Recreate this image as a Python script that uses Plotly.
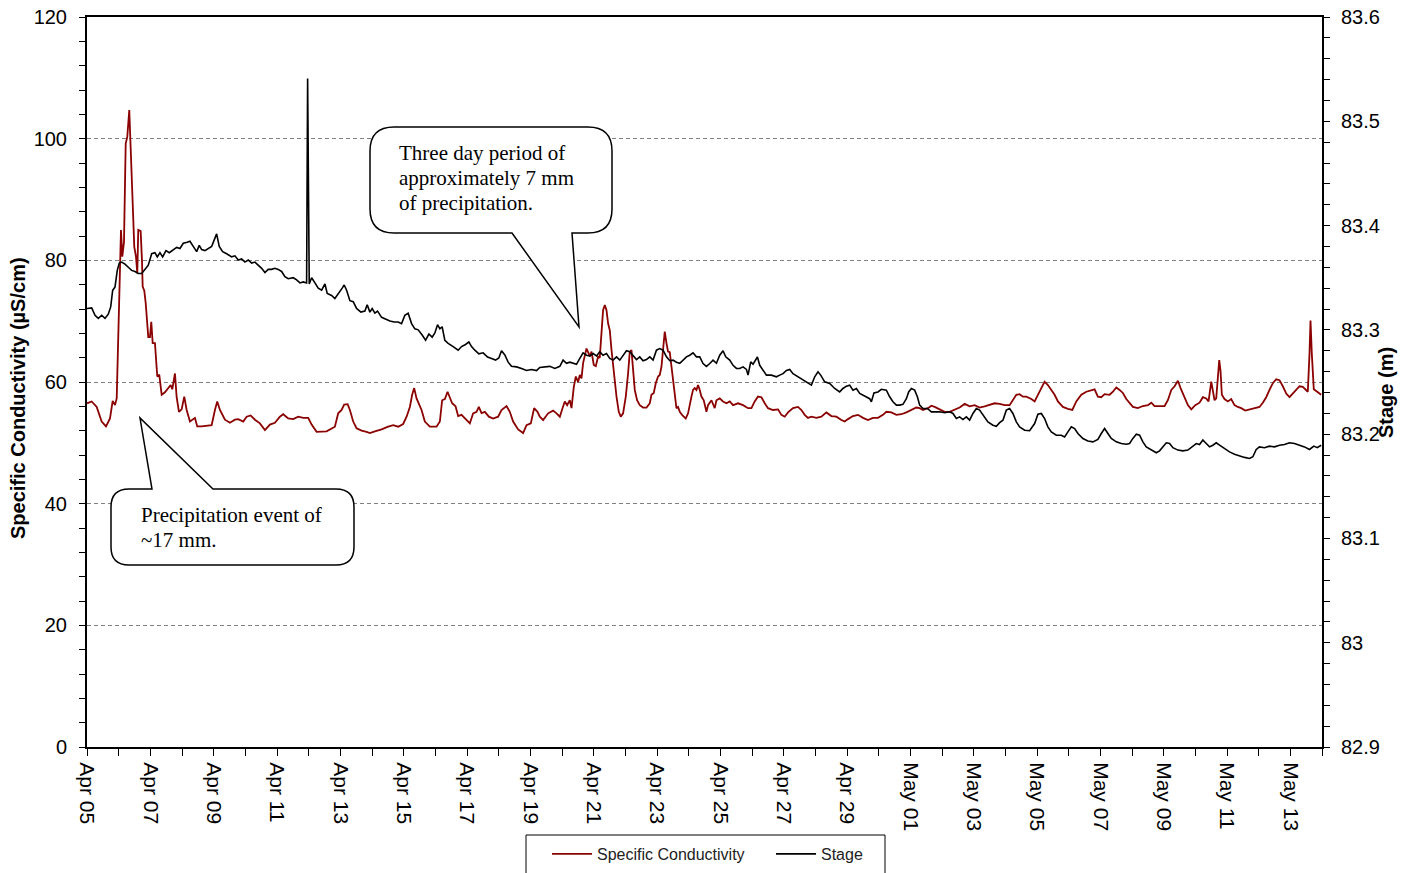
import pandas as pd
import plotly.graph_objects as go

# ---------------- data ----------------
START = "2010-04-05"
END = "2010-05-14"

# days since START, specific conductivity (uS/cm)
cond_days = [
    0.0, 0.148, 0.306, 0.464, 0.600, 0.726, 0.811, 0.884, 0.938, 0.988,
    1.042, 1.073, 1.114, 1.168, 1.222, 1.272, 1.335, 1.379, 1.430, 1.493,
    1.547, 1.588, 1.619, 1.695, 1.736, 1.758, 1.809, 1.853, 1.935, 1.989,
    2.030, 2.074, 2.146, 2.219, 2.282, 2.358, 2.462, 2.566, 2.642, 2.693,
    2.778, 2.831, 2.904, 2.989, 3.071, 3.147, 3.251, 3.409, 3.482, 3.621,
    3.778, 3.936, 4.040, 4.113, 4.198, 4.356, 4.514, 4.672, 4.776, 4.934,
    5.041, 5.167, 5.303, 5.461, 5.619, 5.776, 5.934, 6.092, 6.196, 6.354,
    6.512, 6.670, 6.828, 6.986, 7.093, 7.251, 7.566, 7.724, 7.828, 7.933,
    8.040, 8.122, 8.229, 8.302, 8.406, 8.513, 8.671, 8.829, 8.933, 9.091,
    9.303, 9.511, 9.669, 9.827, 9.984, 10.092, 10.196, 10.268, 10.332, 10.407,
    10.480, 10.565, 10.669, 10.827, 11.039, 11.143, 11.215, 11.301, 11.386, 11.458,
    11.531, 11.638, 11.721, 11.828, 11.954, 12.090, 12.194, 12.301, 12.374, 12.459,
    12.563, 12.690, 12.825, 12.983, 13.090, 13.248, 13.352, 13.457, 13.615, 13.772,
    13.880, 14.015, 14.120, 14.227, 14.299, 14.404, 14.562, 14.719, 14.827, 14.931,
    15.016, 15.089, 15.161, 15.246, 15.300, 15.373, 15.436, 15.509, 15.562, 15.616,
    15.666, 15.720, 15.774, 15.824, 15.878, 15.932, 16.004, 16.067, 16.140, 16.193,
    16.247, 16.297, 16.351, 16.405, 16.455, 16.509, 16.563, 16.635, 16.721, 16.793,
    16.856, 16.929, 17.014, 17.087, 17.140, 17.194, 17.245, 17.298, 17.371, 17.456,
    17.560, 17.668, 17.772, 17.825, 17.898, 17.961, 18.034, 18.087, 18.141, 18.192,
    18.245, 18.299, 18.349, 18.403, 18.457, 18.507, 18.561, 18.614, 18.665, 18.719,
    18.804, 18.908, 18.981, 19.034, 19.088, 19.138, 19.192, 19.246, 19.296, 19.350,
    19.403, 19.476, 19.561, 19.612, 19.719, 19.823, 19.877, 19.981, 20.085, 20.193,
    20.297, 20.401, 20.559, 20.717, 20.875, 20.982, 21.086, 21.190, 21.298, 21.402,
    21.506, 21.664, 21.822, 21.929, 22.033, 22.137, 22.295, 22.453, 22.560, 22.664,
    22.768, 22.876, 23.033, 23.191, 23.349, 23.507, 23.665, 23.823, 23.927, 24.031,
    24.189, 24.347, 24.505, 24.662, 24.820, 24.978, 25.136, 25.243, 25.401, 25.559,
    25.717, 25.875, 26.033, 26.190, 26.295, 26.399, 26.557, 26.664, 26.768, 26.926,
    27.084, 27.241, 27.399, 27.557, 27.715, 27.873, 28.031, 28.188, 28.346, 28.504,
    28.662, 28.820, 28.978, 29.135, 29.240, 29.347, 29.451, 29.555, 29.663, 29.821,
    29.925, 30.029, 30.136, 30.240, 30.344, 30.452, 30.556, 30.660, 30.818, 30.976,
    31.115, 31.241, 31.399, 31.557, 31.715, 31.819, 31.923, 32.030, 32.135, 32.292,
    32.397, 32.504, 32.608, 32.712, 32.820, 32.924, 33.028, 33.186, 33.344, 33.502,
    33.609, 33.713, 33.871, 34.029, 34.133, 34.241, 34.345, 34.449, 34.534, 34.638,
    34.764, 34.872, 34.998, 35.133, 35.238, 35.345, 35.417, 35.503, 35.553, 35.607,
    35.660, 35.711, 35.755, 35.796, 35.837, 35.921, 36.026, 36.133, 36.237, 36.342,
    36.449, 36.575, 36.711, 36.869, 37.026, 37.131, 37.238, 37.342, 37.447, 37.554,
    37.658, 37.763, 37.870, 37.974, 38.078, 38.186, 38.290, 38.394, 38.502, 38.552,
    38.606, 38.637, 38.678, 38.741, 38.848, 38.974,
]
cond_values = [
    56.5, 56.8, 55.9, 53.5, 52.7, 54.0, 56.9, 56.2, 57.3, 69.0,
    80.0, 85.0, 80.6, 83.0, 99.2, 100.3, 104.7, 97.6, 89.9, 82.2,
    80.6, 77.9, 85.0, 84.8, 80.0, 75.7, 75.0, 73.0, 67.4, 67.4,
    69.9, 66.4, 66.4, 60.9, 61.2, 57.9, 58.3, 59.0, 59.5, 58.8,
    61.4, 57.5, 55.1, 55.5, 57.6, 55.4, 53.5, 54.1, 52.7, 52.7,
    52.8, 52.9, 55.4, 56.8, 55.4, 53.8, 53.3, 53.8, 53.9, 53.5,
    54.3, 54.5, 53.8, 53.2, 52.1, 53.0, 53.3, 54.3, 54.7, 54.0,
    53.9, 54.3, 54.1, 54.1, 53.0, 51.8, 51.9, 52.4, 52.65, 54.85,
    55.4, 56.3, 56.35, 55.4, 53.5, 52.4, 52.0, 51.8, 51.6, 51.9,
    52.2, 52.65, 52.9, 52.65, 53.1, 54.3, 55.9, 57.9, 59.0, 57.3,
    56.5, 55.4, 53.5, 52.65, 52.65, 53.5, 57.0, 57.2, 58.4, 57.4,
    56.5, 56.0, 54.4, 54.6, 54.0, 53.2, 54.85, 55.1, 55.9, 54.9,
    55.1, 54.3, 54.0, 54.3, 55.4, 56.05, 55.1, 53.5, 52.2, 51.6,
    52.9, 53.2, 55.7, 55.1, 54.3, 53.75, 54.85, 55.3, 54.85, 54.3,
    55.7, 56.8, 56.2, 57.0, 55.7, 59.2, 60.9, 60.0, 61.15, 60.6,
    63.1, 64.2, 65.5, 64.9, 64.2, 65.0, 62.8, 62.6, 64.2, 64.0,
    67.4, 71.8, 72.65, 71.8, 69.65, 68.5, 65.3, 61.4, 57.6, 55.1,
    54.3, 54.85, 57.6, 61.4, 65.0, 65.25, 62.6, 58.7, 57.0, 56.2,
    55.8, 55.8, 56.5, 57.9, 58.2, 59.8, 60.9, 61.15, 62.5, 65.5,
    68.3, 66.4, 65.0, 64.9, 62.6, 59.8, 57.6, 55.7, 55.9, 55.1,
    54.5, 54.0, 54.85, 56.5, 57.6, 58.7, 59.0, 58.7, 59.5, 58.7,
    57.6, 57.0, 55.1, 56.2, 57.0, 55.7, 57.0, 57.3, 56.8, 56.5,
    56.8, 56.2, 56.5, 56.2, 55.7, 55.7, 56.8, 57.6, 57.5, 56.5,
    55.7, 55.4, 55.5, 54.6, 54.3, 55.0, 55.7, 55.9, 55.4, 54.6,
    54.1, 54.3, 54.1, 54.3, 55.0, 54.4, 54.3, 53.75, 53.5, 53.9,
    54.4, 54.6, 54.1, 53.75, 54.1, 54.1, 54.6, 55.1, 55.0, 54.6,
    54.7, 55.0, 55.4, 55.8, 55.7, 55.4, 55.7, 56.1, 55.9, 55.5,
    55.1, 55.1, 55.5, 55.8, 56.4, 56.0, 56.2, 55.8, 56.0, 56.2,
    56.5, 56.4, 56.2, 56.2, 57.0, 57.9, 58.0, 57.6, 57.6, 57.2,
    56.8, 57.9, 59.2, 60.05, 59.5, 58.7, 57.9, 56.8, 55.9, 55.6,
    55.4, 56.8, 57.9, 58.4, 58.7, 58.8, 57.6, 57.5, 58.0, 57.9,
    58.4, 59.1, 58.7, 58.2, 57.2, 56.5, 55.9, 55.7, 56.05, 56.2,
    56.6, 56.05, 56.05, 56.05, 57.0, 58.7, 59.3, 60.2, 59.0, 57.6,
    56.2, 55.5, 56.2, 56.6, 57.5, 57.3, 56.8, 60.05, 58.7, 57.0,
    57.3, 60.2, 63.6, 61.8, 57.9, 57.2, 56.8, 57.2, 56.2, 55.9,
    55.7, 55.3, 55.5, 55.7, 55.9, 56.6, 57.5, 58.7, 59.8, 60.45,
    60.3, 59.3, 58.1, 57.5, 58.1, 58.7, 59.3, 59.2, 58.7, 58.4,
    64.7, 70.1, 64.7, 58.8, 58.4, 57.9,
]

# days since START, stage (m)
stage_days = [
    0.0, 0.148, 0.253, 0.357, 0.464, 0.568, 0.672, 0.748, 0.811, 0.884,
    0.956, 1.020, 1.095, 1.200, 1.304, 1.411, 1.515, 1.619, 1.727, 1.831,
    1.935, 2.042, 2.146, 2.219, 2.304, 2.389, 2.494, 2.598, 2.705, 2.831,
    2.936, 3.040, 3.166, 3.251, 3.355, 3.463, 3.545, 3.621, 3.725, 3.829,
    3.936, 4.040, 4.094, 4.176, 4.283, 4.410, 4.568, 4.672, 4.776, 4.883,
    4.987, 5.092, 5.199, 5.303, 5.407, 5.515, 5.619, 5.723, 5.830, 5.934,
    6.038, 6.146, 6.250, 6.354, 6.512, 6.620, 6.724, 6.828, 6.935, 6.967,
    7.018, 7.093, 7.198, 7.302, 7.409, 7.514, 7.586, 7.724, 7.828, 7.955,
    8.059, 8.122, 8.198, 8.302, 8.406, 8.513, 8.649, 8.775, 8.848, 8.933,
    9.006, 9.091, 9.176, 9.303, 9.461, 9.565, 9.700, 9.827, 9.934, 10.038,
    10.142, 10.250, 10.354, 10.458, 10.584, 10.692, 10.796, 10.900, 10.985, 11.070,
    11.143, 11.215, 11.301, 11.405, 11.563, 11.721, 11.828, 11.954, 12.058, 12.143,
    12.248, 12.374, 12.510, 12.649, 12.775, 12.901, 13.005, 13.090, 13.195, 13.299,
    13.406, 13.564, 13.722, 13.880, 14.038, 14.195, 14.299, 14.404, 14.615, 14.773,
    14.931, 15.035, 15.142, 15.246, 15.350, 15.458, 15.562, 15.666, 15.774, 15.878,
    15.982, 16.089, 16.193, 16.297, 16.405, 16.509, 16.613, 16.721, 16.825, 16.929,
    17.036, 17.140, 17.245, 17.352, 17.456, 17.560, 17.668, 17.772, 17.876, 17.983,
    18.087, 18.192, 18.299, 18.403, 18.507, 18.614, 18.719, 18.823, 18.930, 19.034,
    19.138, 19.246, 19.350, 19.454, 19.561, 19.666, 19.770, 19.877, 19.981, 20.085,
    20.170, 20.297, 20.401, 20.508, 20.612, 20.717, 20.824, 20.875, 20.960, 21.033,
    21.108, 21.171, 21.244, 21.348, 21.456, 21.614, 21.771, 21.875, 21.980, 22.087,
    22.191, 22.295, 22.453, 22.611, 22.768, 22.876, 22.980, 23.084, 23.169, 23.296,
    23.453, 23.611, 23.769, 23.873, 23.981, 24.085, 24.189, 24.297, 24.401, 24.559,
    24.716, 24.770, 24.852, 24.978, 25.085, 25.243, 25.347, 25.451, 25.559, 25.663,
    25.767, 25.875, 25.947, 26.033, 26.137, 26.222, 26.295, 26.399, 26.538, 26.664,
    26.768, 26.926, 27.084, 27.241, 27.346, 27.453, 27.557, 27.661, 27.768, 27.873,
    27.977, 28.084, 28.188, 28.292, 28.450, 28.608, 28.716, 28.820, 28.924, 29.031,
    29.135, 29.240, 29.347, 29.451, 29.609, 29.767, 29.925, 30.029, 30.136, 30.240,
    30.344, 30.452, 30.610, 30.768, 30.872, 30.976, 31.084, 31.188, 31.292, 31.450,
    31.608, 31.765, 31.923, 32.030, 32.135, 32.239, 32.346, 32.504, 32.662, 32.820,
    32.924, 33.028, 33.136, 33.240, 33.344, 33.451, 33.609, 33.767, 33.871, 33.975,
    34.083, 34.187, 34.291, 34.449, 34.607, 34.764, 34.922, 35.030, 35.133, 35.238,
    35.345, 35.449, 35.553, 35.660, 35.765, 35.921, 36.079, 36.237, 36.395, 36.553,
    36.711, 36.816, 36.923, 37.026, 37.184, 37.342, 37.500, 37.658, 37.816, 37.974,
    38.132, 38.290, 38.448, 38.606, 38.741, 38.848, 38.974,
]
stage_values = [
    83.3205, 83.321, 83.314, 83.311, 83.314, 83.311, 83.315, 83.322, 83.338, 83.341,
    83.357, 83.364, 83.365, 83.363, 83.360, 83.357, 83.356, 83.354, 83.354, 83.358,
    83.362, 83.373, 83.374, 83.370, 83.374, 83.370, 83.376, 83.374, 83.376, 83.379,
    83.378, 83.383, 83.384, 83.385, 83.380, 83.375, 83.381, 83.377, 83.376, 83.378,
    83.380, 83.388, 83.392, 83.380, 83.375, 83.373, 83.370, 83.371, 83.367, 83.368,
    83.365, 83.367, 83.364, 83.365, 83.362, 83.359, 83.355, 83.358, 83.358, 83.359,
    83.358, 83.356, 83.351, 83.349, 83.350, 83.348, 83.345, 83.346, 83.345, 83.541,
    83.344, 83.350, 83.345, 83.340, 83.338, 83.344, 83.335, 83.333, 83.330, 83.335,
    83.340, 83.343, 83.338, 83.328, 83.327, 83.3205, 83.317, 83.318, 83.324, 83.317,
    83.3205, 83.316, 83.318, 83.312, 83.310, 83.3085, 83.3076, 83.3076, 83.306, 83.314,
    83.316, 83.306, 83.301, 83.300, 83.295, 83.290, 83.296, 83.293, 83.297, 83.305,
    83.301, 83.303, 83.290, 83.287, 83.284, 83.2805, 83.284, 83.286, 83.2885, 83.284,
    83.2805, 83.277, 83.278, 83.274, 83.2725, 83.271, 83.273, 83.280, 83.276, 83.269,
    83.265, 83.2645, 83.263, 83.261, 83.262, 83.261, 83.264, 83.2645, 83.265, 83.263,
    83.265, 83.271, 83.268, 83.269, 83.268, 83.267, 83.2726, 83.278, 83.2757, 83.275,
    83.2773, 83.275, 83.279, 83.2757, 83.2773, 83.2726, 83.271, 83.2741, 83.271, 83.2757,
    83.280, 83.279, 83.2757, 83.2715, 83.2741, 83.2704, 83.2715, 83.2741, 83.271, 83.2805,
    83.282, 83.2805, 83.2741, 83.2704, 83.271, 83.269, 83.268, 83.271, 83.2741, 83.2757,
    83.278, 83.2741, 83.2741, 83.2677, 83.265, 83.2677, 83.271, 83.268, 83.2757, 83.280,
    83.2741, 83.271, 83.266, 83.263, 83.263, 83.2645, 83.262, 83.2566, 83.2693, 83.267,
    83.271, 83.274, 83.266, 83.2613, 83.2566, 83.2566, 83.255, 83.2566, 83.258, 83.261,
    83.262, 83.258, 83.255, 83.2518, 83.2486, 83.247, 83.255, 83.2598, 83.2566, 83.2502,
    83.2486, 83.2438, 83.2405, 83.2438, 83.246, 83.247, 83.2422, 83.2438, 83.239, 83.2364,
    83.234, 83.231, 83.2396, 83.2405, 83.243, 83.2422, 83.2358, 83.231, 83.2278, 83.2278,
    83.2286, 83.234, 83.2405, 83.2438, 83.2422, 83.2358, 83.2278, 83.2246, 83.2246, 83.2214,
    83.2214, 83.2214, 83.2205, 83.2214, 83.2198, 83.215, 83.2166, 83.214, 83.2166, 83.2134,
    83.2198, 83.2246, 83.223, 83.2182, 83.2118, 83.2086, 83.2075, 83.211, 83.2134, 83.223,
    83.2246, 83.2198, 83.2118, 83.207, 83.2038, 83.2033, 83.2102, 83.2192, 83.2198, 83.215,
    83.207, 83.2022, 83.199, 83.199, 83.1974, 83.2022, 83.207, 83.2054, 83.2006, 83.1958,
    83.1935, 83.1926, 83.195, 83.2006, 83.2054, 83.2006, 83.1958, 83.1926, 83.191, 83.1903,
    83.191, 83.1959, 83.200, 83.199, 83.1926, 83.1878, 83.1847, 83.1821, 83.184, 83.1878,
    83.1917, 83.191, 83.187, 83.1847, 83.184, 83.1847, 83.1885, 83.191, 83.190, 83.1943,
    83.191, 83.1878, 83.1894, 83.1917, 83.1894, 83.186, 83.183, 83.1808, 83.179, 83.1777,
    83.1767, 83.1783, 83.1853, 83.1878, 83.187, 83.1885, 83.1878, 83.1894, 83.190, 83.1917,
    83.191, 83.1894, 83.1878, 83.1853, 83.1885, 83.187, 83.1894,
]

cond_range = [0, 120]
stage_range = [82.9, 83.6]
series_names = ["Specific Conductivity", "Stage"]
callout1_lines = ["Three day period of", "approximately 7 mm", "of precipitation."]
callout2_lines = ["Precipitation event of", "~17 mm."]

assert len(cond_days) == len(cond_values)
assert len(stage_days) == len(stage_values)

base = pd.Timestamp(START)
cond_t = base + pd.to_timedelta(cond_days, unit="D")
stage_t = base + pd.to_timedelta(stage_days, unit="D")

# ---------------- layout geometry (page pixels) ----------------
W, H = 1412, 873
PL, PR, PT, PB = 87, 1322, 17, 747   # plot box on the page
ML, MT, MR, MB = PL, PT, W - PR, H - PB
PW, PH = PR - PL, PB - PT


def X(p):
    return (p - PL) / PW


def Y(p):
    return (PB - p) / PH


SANS = "Liberation Sans, Arial, sans-serif"
SERIF = "Liberation Serif, Times New Roman, serif"
DAY_MS = 86400000

fig = go.Figure()
fig.add_trace(go.Scatter(
    x=cond_t, y=cond_values, name=series_names[0], mode="lines",
    line=dict(color="#8b0000", width=1.8), yaxis="y"))
fig.add_trace(go.Scatter(
    x=stage_t, y=stage_values, name=series_names[1], mode="lines",
    line=dict(color="#000000", width=1.6), yaxis="y2"))


def callout(x0, y0, x1, y1, r, tail, edge):
    def P(a, b):
        return f"{X(a):.5f},{Y(b):.5f}"
    s = f"M {P(x0 + r, y0)} "
    if edge == "top":
        s += "".join(f"L {P(a, b)} " for a, b in tail)
    s += f"L {P(x1 - r, y0)} Q {P(x1, y0)} {P(x1, y0 + r)} "
    s += f"L {P(x1, y1 - r)} Q {P(x1, y1)} {P(x1 - r, y1)} "
    if edge == "bottom":
        s += "".join(f"L {P(a, b)} " for a, b in tail)
    s += f"L {P(x0 + r, y1)} Q {P(x0, y1)} {P(x0, y1 - r)} "
    s += f"L {P(x0, y0 + r)} Q {P(x0, y0)} {P(x0 + r, y0)} Z"
    return dict(type="path", xref="paper", yref="paper", path=s,
                fillcolor="white", line=dict(color="black", width=1.5),
                layer="above")


shapes = [
    callout(370, 127, 612, 233, 24, [(572, 233), (579, 327), (512, 233)], "bottom"),
    callout(111, 489, 354, 565, 18, [(152, 489), (140, 418), (213, 489)], "top"),
    # legend frame
    dict(type="rect", xref="paper", yref="paper",
         x0=X(526), x1=X(885), y0=Y(835), y1=Y(880),
         line=dict(color="black", width=1), fillcolor="white", layer="below"),
]

annotations = []
for i, t in enumerate(callout1_lines):
    annotations.append(dict(
        text=t, x=X(397), y=Y(153 + 25 * i), xref="paper", yref="paper",
        xanchor="left", yanchor="middle", align="left", showarrow=False,
        font=dict(family=SERIF, size=21, color="black")))
for i, t in enumerate(callout2_lines):
    annotations.append(dict(
        text=t, x=X(139), y=Y(515 + 25 * i), xref="paper", yref="paper",
        xanchor="left", yanchor="middle", align="left", showarrow=False,
        font=dict(family=SERIF, size=21, color="black")))
annotations += [
    dict(text="<b>Specific Conductivity (µS/cm)</b>", x=X(18), y=Y(398),
         xref="paper", yref="paper", textangle=-90, showarrow=False,
         xanchor="center", yanchor="middle",
         font=dict(family=SANS, size=20, color="black")),
    dict(text="<b>Stage (m)</b>", x=X(1386), y=Y(393),
         xref="paper", yref="paper", textangle=-90, showarrow=False,
         xanchor="center", yanchor="middle",
         font=dict(family=SANS, size=20, color="black")),
]

fig.update_layout(
    width=W, height=H,
    margin=dict(l=ML, r=MR, t=MT, b=MB, pad=0, autoexpand=False),
    paper_bgcolor="white", plot_bgcolor="white",
    font=dict(family=SANS, size=20, color="black"),
    showlegend=True,
    legend=dict(orientation="h", x=X(547), xanchor="left", y=Y(837), yanchor="top",
                borderwidth=0, bgcolor="rgba(0,0,0,0)",
                font=dict(family=SANS, size=16, color="#222222"),
                itemwidth=40, entrywidth=169),
    shapes=shapes,
    annotations=annotations,
    xaxis=dict(
        type="date", range=[START, END], automargin=False,
        tick0=START, dtick=2 * DAY_MS, tickformat="%b %d", tickangle=90,
        ticks="outside", ticklen=7, tickwidth=1, tickcolor="black",
        minor=dict(dtick=DAY_MS, tick0=START, ticks="outside", ticklen=7,
                   tickcolor="black", showgrid=False),
        showgrid=False, zeroline=False,
        showline=True, linecolor="black", linewidth=2, mirror=True,
        tickfont=dict(family=SANS, size=21, color="black"),
        ticklabelstandoff=2, ticklabeloverflow="allow",
    ),
    yaxis=dict(
        range=cond_range, dtick=20, tick0=0, automargin=False,
        ticks="outside", ticklen=6, tickcolor="black",
        minor=dict(dtick=4, ticks="outside", ticklen=6, tickcolor="black",
                   showgrid=False),
        showgrid=True, gridcolor="#808080", gridwidth=1, griddash="4px,3px",
        zeroline=False, showline=True, linecolor="black", linewidth=2,
        tickfont=dict(family=SANS, size=20, color="black"),
        ticklabelstandoff=8, ticklabeloverflow="allow",
    ),
    yaxis2=dict(
        range=stage_range, dtick=0.1, tick0=82.9, overlaying="y", side="right",
        automargin=False,
        ticks="outside", ticklen=6, tickcolor="black",
        minor=dict(dtick=0.02, ticks="outside", ticklen=6, tickcolor="black",
                   showgrid=False),
        showgrid=False, zeroline=False,
        showline=True, linecolor="black", linewidth=2,
        tickfont=dict(family=SANS, size=20, color="black"),
        ticklabelstandoff=7, ticklabeloverflow="allow",
    ),
)

# remove the browser's default 8px body margin so the figure fills the window
fig.write_html(
    "out.html",
    config={"displayModeBar": False},
    post_script="document.body.style.margin='0';document.body.style.overflow='hidden';",
)
